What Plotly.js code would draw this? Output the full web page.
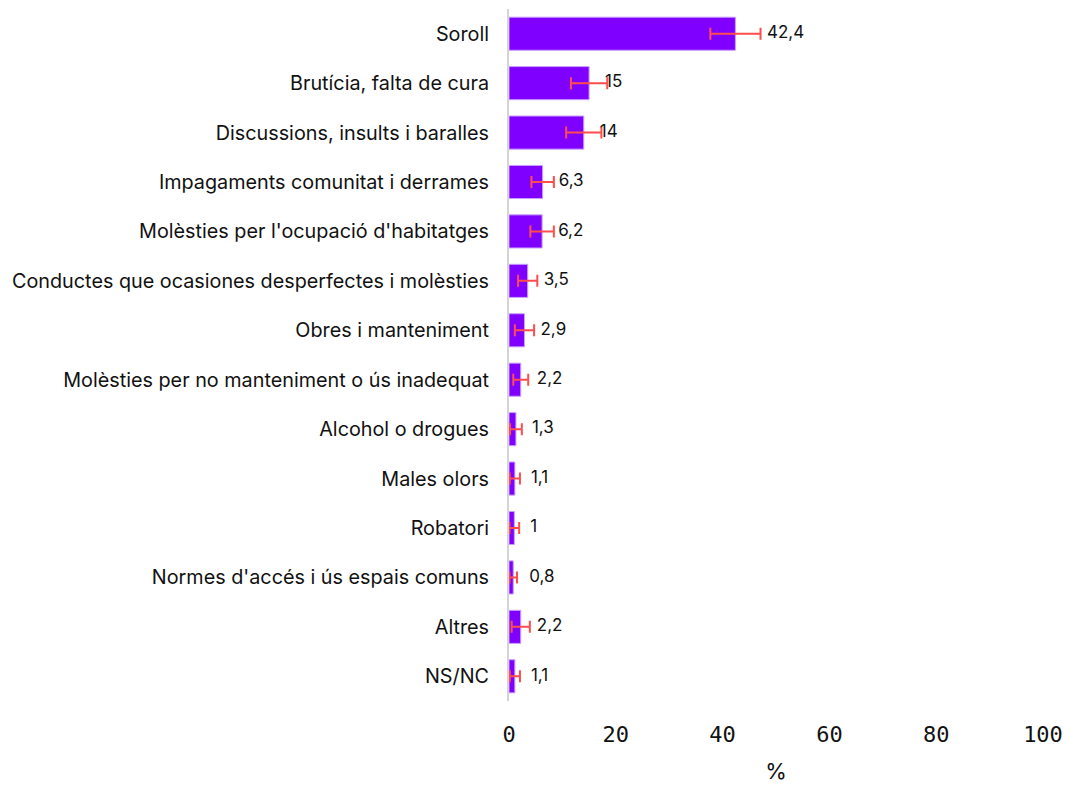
<!DOCTYPE html>
<html>
<head>
<meta charset="utf-8">
<script src="https://cdn.plot.ly/plotly-3.0.1.min.js"></script>
<style>html,body{margin:0;padding:0;background:#fff;}#chart{width:1071px;height:785px;}</style>
</head>
<body>
<div id="chart"></div>
<script>
const categories = [
  "Soroll",
  "Brutícia, falta de cura",
  "Discussions, insults i baralles",
  "Impagaments comunitat i derrames",
  "Molèsties per l'ocupació d'habitatges",
  "Conductes que ocasiones desperfectes i molèsties",
  "Obres i manteniment",
  "Molèsties per no manteniment o ús inadequat",
  "Alcohol o drogues",
  "Males olors",
  "Robatori",
  "Normes d'accés i ús espais comuns",
  "Altres",
  "NS/NC"
];
const values = [42.4, 15, 14, 6.3, 6.2, 3.5, 2.9, 2.2, 1.3, 1.1, 1, 0.8, 2.2, 1.1];
const errors = [4.7, 3.4, 3.3, 2.1, 2.2, 1.8, 1.8, 1.4, 1.1, 0.95, 0.9, 0.7, 1.7, 0.95];
const valueLabels = ["42,4", "15", "14", "6,3", "6,2", "3,5", "2,9", "2,2", "1,3", "1,1", "1", "0,8", "2,2", "1,1"];
const tickVals = [0, 20, 40, 60, 80, 100];
const tickLabels = ["0", "20", "40", "60", "80", "100"];

// labels sit just right of the bar, or past the error bar when it is long
const labelX = values.map((v, i) => v + (errors[i] > 4 ? errors[i] + 1.2 : 3));

const traces = [
  {
    type: 'bar',
    orientation: 'h',
    y: categories,
    x: values,
    marker: {color: '#8000ff', line: {color: '#c9a0ff', width: 1}},
    error_x: {type: 'data', array: errors, visible: true, color: '#ff4d4d', thickness: 2, width: 6},
    hoverinfo: 'none'
  },
  {
    type: 'scatter',
    mode: 'text',
    y: categories,
    x: labelX,
    text: valueLabels,
    textposition: 'middle right',
    textfont: {family: 'Inter, sans-serif', size: 17, color: '#111'},
    hoverinfo: 'none',
    cliponaxis: false
  }
];

const layout = {
  width: 1071,
  height: 785,
  margin: {l: 509, r: 28, t: 9, b: 84},
  showlegend: false,
  bargap: 0.33,
  paper_bgcolor: '#fff',
  plot_bgcolor: '#fff',
  xaxis: {
    range: [0, 100],
    tickvals: tickVals,
    ticktext: tickLabels,
    showgrid: false,
    zeroline: false,
    showline: false,
    ticks: '',
    ticklen: 0,
    ticklabelstandoff: 18,
    tickfont: {family: 'DejaVu Sans Mono, monospace', size: 22, color: '#111'},
    title: {text: '%', font: {family: 'Inter, sans-serif', size: 22, color: '#111'}, standoff: 17}
  },
  yaxis: {
    type: 'category',
    range: [categories.length - 0.5, -0.5],
    showgrid: false,
    zeroline: false,
    showline: true,
    linecolor: '#d4d4d4',
    linewidth: 2,
    ticks: '',
    ticklabelstandoff: 14,
    tickfont: {family: 'Inter, sans-serif', size: 19.8, color: '#111'}
  }
};

Plotly.newPlot('chart', traces, layout, {displayModeBar: false, staticPlot: true});
</script>
</body>
</html>
